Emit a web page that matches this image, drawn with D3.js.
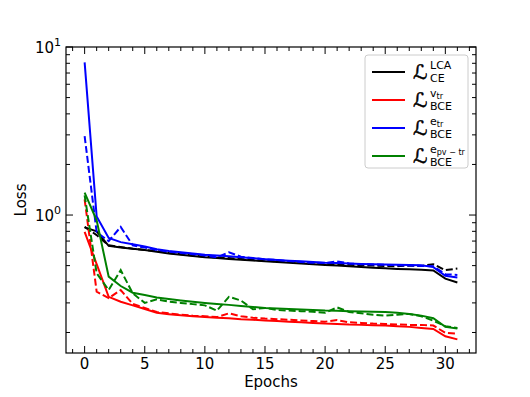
<!DOCTYPE html>
<html>
<head>
<meta charset="utf-8">
<script src="https://cdn.jsdelivr.net/npm/d3@7"></script>
<style>
  body { margin: 0; background: #fff; }
  text { font-family: "DejaVu Sans", sans-serif; fill: #000; }
</style>
</head>
<body>
<svg id="chart" width="530" height="397"></svg>
<script>
// epochs 0..31
const epochs = d3.range(0, 32);

// solid = train, dashed = val
const lcaSolid = [0.845, 0.80, 0.656, 0.64, 0.63, 0.62, 0.605, 0.59, 0.58, 0.57, 0.56, 0.555, 0.548, 0.542, 0.536, 0.53, 0.525, 0.52, 0.515, 0.51, 0.505, 0.50, 0.495, 0.49, 0.486, 0.482, 0.478, 0.475, 0.472, 0.468, 0.418, 0.397];
const lcaDashed = [0.85, 0.76, 0.66, 0.645, 0.63, 0.62, 0.61, 0.595, 0.585, 0.575, 0.565, 0.56, 0.555, 0.548, 0.54, 0.535, 0.53, 0.525, 0.52, 0.516, 0.512, 0.51, 0.506, 0.503, 0.5, 0.498, 0.496, 0.5, 0.498, 0.51, 0.47, 0.48];
const vSolid = [0.795, 0.51, 0.326, 0.305, 0.29, 0.276, 0.262, 0.257, 0.253, 0.25, 0.247, 0.245, 0.243, 0.24, 0.238, 0.236, 0.234, 0.232, 0.23, 0.228, 0.226, 0.225, 0.223, 0.222, 0.221, 0.22, 0.218, 0.216, 0.213, 0.21, 0.19, 0.182];
const vDashed = [1.24, 0.35, 0.32, 0.358, 0.296, 0.28, 0.265, 0.26, 0.255, 0.252, 0.25, 0.247, 0.26, 0.25, 0.245, 0.242, 0.24, 0.238, 0.236, 0.234, 0.232, 0.237, 0.23, 0.228, 0.226, 0.225, 0.223, 0.222, 0.222, 0.22, 0.199, 0.197];
const eSolid = [8.1, 0.98, 0.73, 0.69, 0.67, 0.65, 0.625, 0.61, 0.6, 0.59, 0.58, 0.575, 0.568, 0.56, 0.553, 0.546, 0.54, 0.535, 0.53, 0.525, 0.52, 0.518, 0.515, 0.512, 0.51, 0.508, 0.506, 0.504, 0.502, 0.49, 0.435, 0.425];
const eDashed = [2.95, 0.79, 0.70, 0.85, 0.66, 0.64, 0.62, 0.605, 0.595, 0.585, 0.575, 0.56, 0.60, 0.565, 0.555, 0.545, 0.54, 0.532, 0.525, 0.52, 0.518, 0.53, 0.515, 0.51, 0.508, 0.505, 0.503, 0.5, 0.498, 0.495, 0.445, 0.44];
const epvSolid = [1.36, 0.93, 0.43, 0.378, 0.345, 0.334, 0.323, 0.316, 0.31, 0.305, 0.30, 0.296, 0.292, 0.288, 0.284, 0.28, 0.278, 0.276, 0.274, 0.272, 0.27, 0.269, 0.268, 0.267, 0.266, 0.265, 0.262, 0.258, 0.252, 0.243, 0.216, 0.211];
const epvDashed = [1.31, 0.45, 0.358, 0.47, 0.342, 0.30, 0.315, 0.305, 0.30, 0.295, 0.29, 0.27, 0.326, 0.31, 0.275, 0.28, 0.272, 0.27, 0.268, 0.266, 0.262, 0.282, 0.265, 0.26, 0.255, 0.252, 0.255, 0.258, 0.25, 0.235, 0.218, 0.213];

const xTicks = [0, 5, 10, 15, 20, 25, 30];
const yTicks = [1, 10];

const series = [
  { key: "lca", color: "#000000", solid: lcaSolid, dashed: lcaDashed, sup: "LCA", supSub: "", sub: "CE" },
  { key: "v", color: "#ff0000", solid: vSolid, dashed: vDashed, sup: "v", supSub: "tr", sub: "BCE" },
  { key: "e", color: "#0000ff", solid: eSolid, dashed: eDashed, sup: "e", supSub: "tr", sub: "BCE" },
  { key: "epv", color: "#008000", solid: epvSolid, dashed: epvDashed, sup: "e", supSub: "pv \u2212 tr", sub: "BCE" }
];

const svg = d3.select("#chart");
const mLeft = 66, mRight = 476, mTop = 47, mBottom = 353;

const x = d3.scaleLinear().domain([-1.55, 32.55]).range([mLeft, mRight]);
const y = d3.scaleLog().domain([0.151, 10]).range([mBottom, mTop]);

// lines, clipped to the axes box
svg.append("clipPath").attr("id", "clip")
  .append("rect").attr("x", mLeft).attr("y", mTop).attr("width", mRight - mLeft).attr("height", mBottom - mTop);

const line = d3.line().x((d, i) => x(epochs[i])).y(d => y(d));
const plot = svg.append("g").attr("clip-path", "url(#clip)");

series.forEach(s => {
  plot.append("path").attr("d", line(s.solid))
    .attr("fill", "none").attr("stroke", s.color).attr("stroke-width", 2);
  plot.append("path").attr("d", line(s.dashed))
    .attr("fill", "none").attr("stroke", s.color).attr("stroke-width", 2)
    .attr("stroke-dasharray", "7,3");
});

// ticks inward on all four sides
const xMinor = d3.range(-1, 33).filter(v => v % 5 !== 0);
const yMinor = [0.2, 0.3, 0.4, 0.5, 0.6, 0.7, 0.8, 0.9, 2, 3, 4, 5, 6, 7, 8, 9];
const tickG = svg.append("g").attr("stroke", "#000").attr("stroke-width", 1);

function xTick(v, len) {
  tickG.append("line").attr("x1", x(v)).attr("x2", x(v)).attr("y1", mBottom).attr("y2", mBottom - len);
  tickG.append("line").attr("x1", x(v)).attr("x2", x(v)).attr("y1", mTop).attr("y2", mTop + len);
}
function yTick(v, len) {
  tickG.append("line").attr("y1", y(v)).attr("y2", y(v)).attr("x1", mLeft).attr("x2", mLeft + len);
  tickG.append("line").attr("y1", y(v)).attr("y2", y(v)).attr("x1", mRight).attr("x2", mRight - len);
}
xTicks.forEach(v => xTick(v, 7));
xMinor.forEach(v => xTick(v, 4));
yTicks.forEach(v => yTick(v, 7));
yMinor.forEach(v => yTick(v, 4));

svg.append("rect").attr("x", mLeft).attr("y", mTop).attr("width", mRight - mLeft).attr("height", mBottom - mTop)
  .attr("fill", "none").attr("stroke", "#000").attr("stroke-width", 1.2);

// tick labels
svg.selectAll(".xl").data(xTicks).enter().append("text")
  .attr("x", d => x(d)).attr("y", 369).attr("text-anchor", "middle")
  .style("font-size", "15px").text(d => d);

yTicks.forEach(v => {
  const t = svg.append("text").attr("x", 61).attr("y", y(v) + 6).attr("text-anchor", "end").style("font-size", "15px");
  t.append("tspan").text("10");
  t.append("tspan").attr("dy", -7).style("font-size", "11px").text(Math.round(Math.log10(v)));
});

svg.append("text").attr("x", (mLeft + mRight) / 2).attr("y", 387).attr("text-anchor", "middle")
  .style("font-size", "15px").text("Epochs");
svg.append("text").attr("transform", `translate(26, ${(mTop + mBottom) / 2}) rotate(-90)`)
  .attr("text-anchor", "middle").style("font-size", "15px").text("Loss");

// legend
const lg = svg.append("g");
lg.append("rect").attr("x", 365).attr("y", 55).attr("width", 103).attr("height", 113)
  .attr("rx", 3).attr("fill", "#fff").attr("fill-opacity", 0.8).attr("stroke", "#ccc");

series.forEach((s, i) => {
  const cy = 72 + i * 28;
  lg.append("line").attr("x1", 372).attr("x2", 405).attr("y1", cy).attr("y2", cy)
    .attr("stroke", s.color).attr("stroke-width", 2);
  lg.append("text").attr("x", 413).attr("y", cy + 7).style("font-size", "20px")
    .attr("stroke", "#000").attr("stroke-width", 0.5).text("\u2112");
  const sup = lg.append("text").attr("x", 430).attr("y", cy - 3).style("font-size", "11px");
  sup.append("tspan").text(s.sup);
  if (s.supSub) sup.append("tspan").attr("dy", 2).style("font-size", "8px").text(s.supSub);
  lg.append("text").attr("x", 430).attr("y", cy + 10).style("font-size", "11px").text(s.sub);
});
</script>
</body>
</html>
